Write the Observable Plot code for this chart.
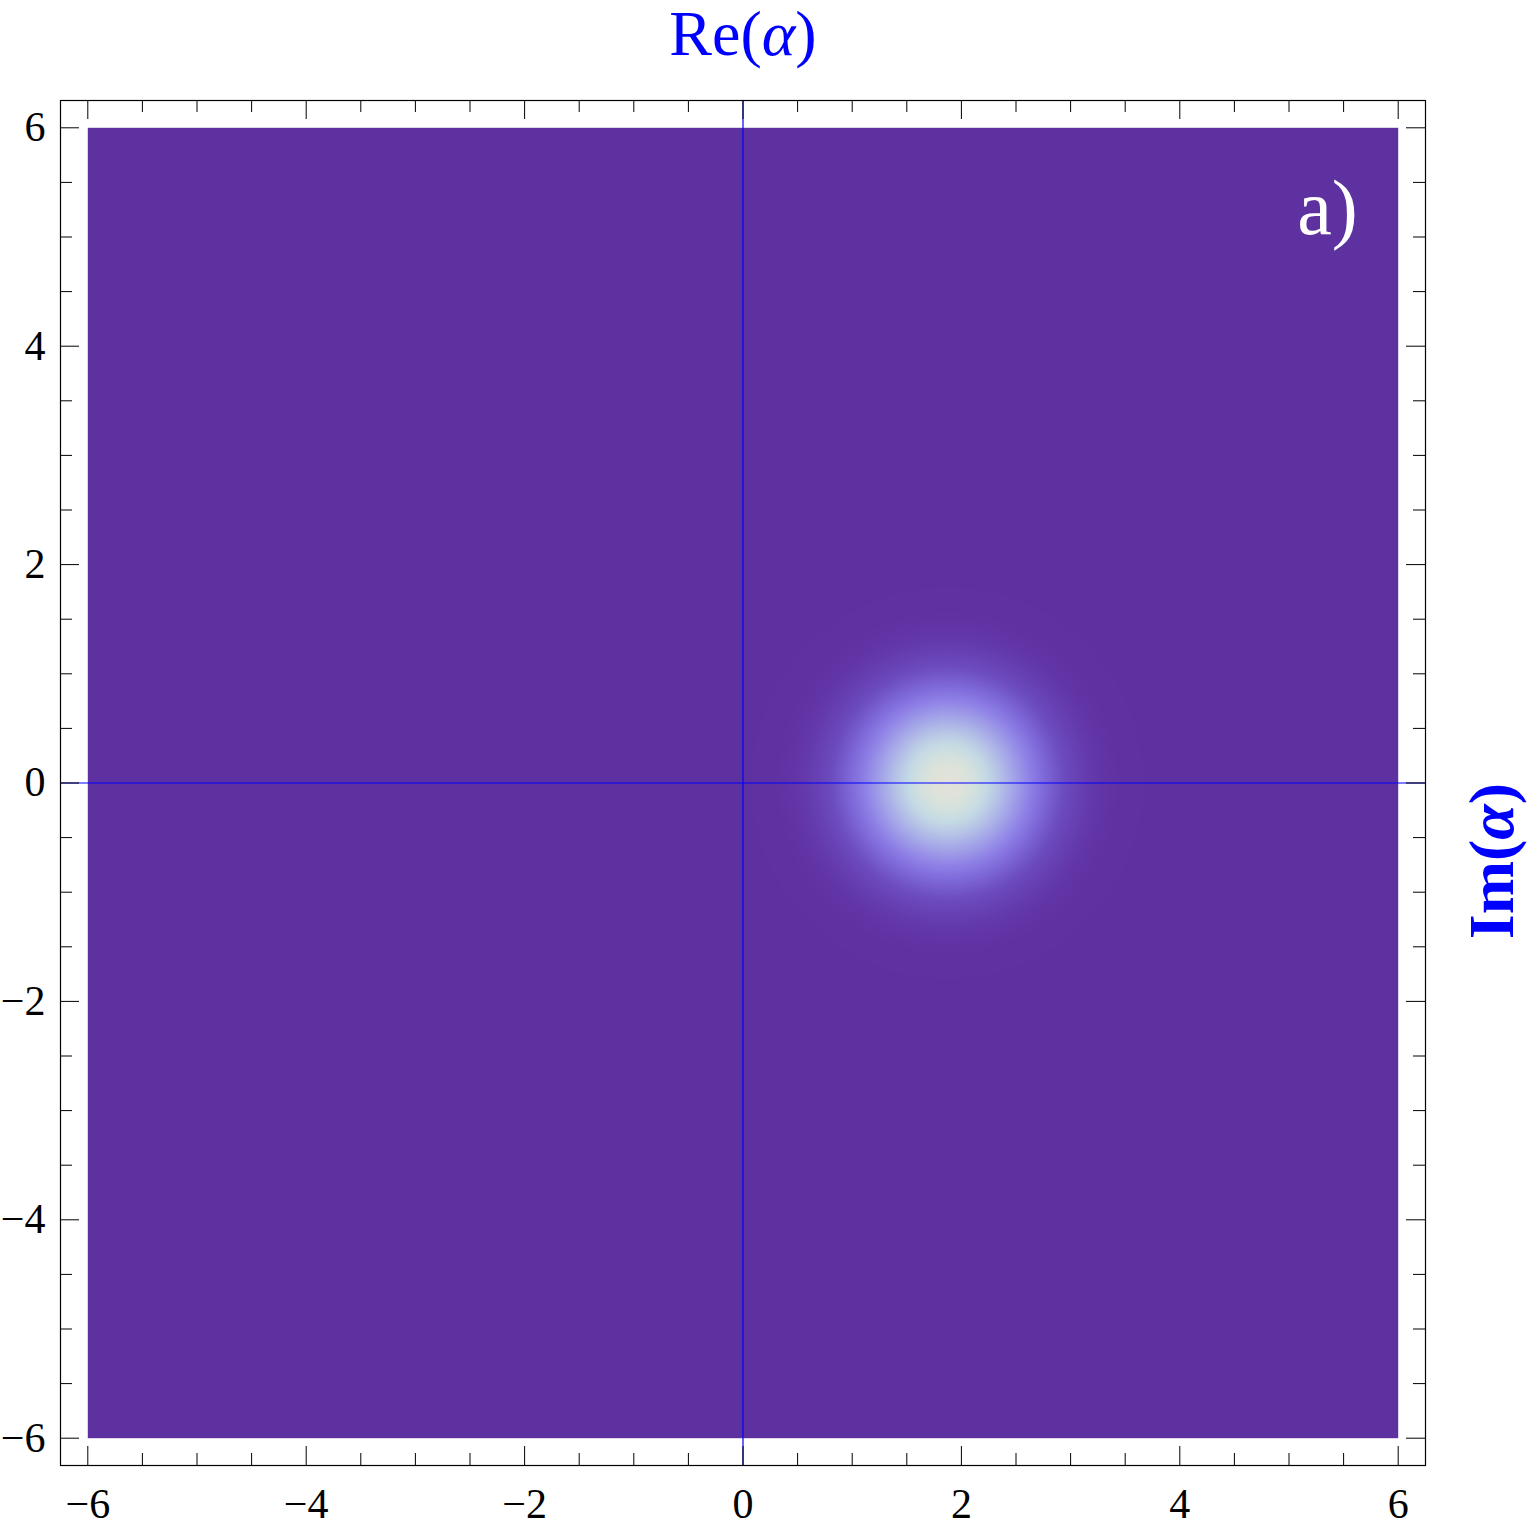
<!DOCTYPE html>
<html>
<head>
<meta charset="utf-8">
<script src="https://cdn.jsdelivr.net/npm/d3@7"></script>
<script src="https://cdn.jsdelivr.net/npm/@observablehq/plot@0.6"></script>
<style>
  body { margin: 0; background: #ffffff; }
</style>
</head>
<body>
<div id="chart"></div>
<script>
// ---- data ----
const xMajor = [-6, -4, -2, 0, 2, 4, 6];
const yMajor = [-6, -4, -2, 0, 2, 4, 6];
const minorTicks = [-5.5, -5, -4.5, -3.5, -3, -2.5, -1.5, -1, -0.5, 0.5, 1, 1.5, 2.5, 3, 3.5, 4.5, 5, 5.5];
const plotRange = [-6, 6];            // region covered by the density plot
const axisRange = [-6.25, 6.25];      // frame (with padding)
const alphaCenter = [1.87, 0];        // Re(α), Im(α) of the blob centre
const blobWidth = 1;                  // Q ∝ exp(-|β-α|²/w²)
const colorStops = [0, 0.08, 0.15, 0.32, 0.45, 0.56, 0.72, 0.88, 0.96, 1];
const colorRange = ["#5e31a1", "#5f32a2", "#6236a7", "#6c4cbf", "#7e68d8", "#8e80e6", "#a8ace8", "#c4dae4", "#d8e2dc", "#e2e2d8"];
const titleTop = "Re(α)";
const titleRight = "Im(α)";
const panelLabel = "a)";
const panelLabelPos = [5.63, 5.26];

// ---- layout ----
const W = 1530, H = 1532;
const mL = 60, mR = 105, mT = 100, mB = 67;
const fw = W - mL - mR, fh = H - mT - mB;
const majorLen = 19, minorLen = 12;
const serif = "'Liberation Serif', 'Times New Roman', serif";
const fmt = d => (d < 0 ? "\u2212" + (-d) : String(d));

const Q = (x, y) => Math.exp(-((x - alphaCenter[0]) ** 2 + (y - alphaCenter[1]) ** 2) / (blobWidth ** 2));

const plot = Plot.plot({
  width: W,
  height: H,
  marginLeft: mL,
  marginRight: mR,
  marginTop: mT,
  marginBottom: mB,
  x: { domain: axisRange },
  y: { domain: axisRange },
  color: { type: "linear", domain: colorStops, range: colorRange, clamp: true },
  style: { fontFamily: serif, background: "white", color: "black" },
  marks: [
    Plot.raster({ x1: plotRange[0], x2: plotRange[1], y1: plotRange[0], y2: plotRange[1], pixelSize: 1, fill: Q }),
    Plot.ruleX([0], { stroke: "#0000ff", strokeWidth: 1.2 }),
    Plot.ruleY([0], { stroke: "#0000ff", strokeWidth: 1.2 }),
    // bottom ticks
    Plot.tickX(xMajor, { x: d => d, insetTop: fh - majorLen, stroke: "black" }),
    Plot.tickX(minorTicks, { x: d => d, insetTop: fh - minorLen, stroke: "black" }),
    // top ticks
    Plot.tickX(xMajor, { x: d => d, insetBottom: fh - majorLen, stroke: "black" }),
    Plot.tickX(minorTicks, { x: d => d, insetBottom: fh - minorLen, stroke: "black" }),
    // left ticks
    Plot.tickY(yMajor, { y: d => d, insetRight: fw - majorLen, stroke: "black" }),
    Plot.tickY(minorTicks, { y: d => d, insetRight: fw - minorLen, stroke: "black" }),
    // right ticks
    Plot.tickY(yMajor, { y: d => d, insetLeft: fw - majorLen, stroke: "black" }),
    Plot.tickY(minorTicks, { y: d => d, insetLeft: fw - minorLen, stroke: "black" }),
    Plot.frame({ stroke: "black", strokeWidth: 1.2 }),
    Plot.axisX(xMajor, { anchor: "bottom", tickSize: 0, tickPadding: 23, fontSize: 42, label: null, tickFormat: fmt }),
    Plot.axisY(yMajor, { anchor: "left", tickSize: 0, tickPadding: 15, fontSize: 42, label: null, tickFormat: fmt }),
    Plot.text([titleTop], { text: d => d, frameAnchor: "top", dy: -66, fontSize: 64, fill: "#0000ff", lineAnchor: "middle" }),
    Plot.text([titleRight], { text: d => d, frameAnchor: "right", dx: 67, rotate: -90, fontSize: 64, fontWeight: "bold", fill: "#0000ff", lineAnchor: "middle" }),
    Plot.text([panelLabel], { text: d => d, x: () => panelLabelPos[0], y: () => panelLabelPos[1], textAnchor: "end", fontSize: 78, fill: "white", lineAnchor: "middle" })
  ]
});

// italic alpha in the axis titles
d3.select(plot).selectAll("text").each(function () {
  const t = this.textContent;
  if (t === titleTop || t === titleRight) {
    const parts = t.split("α");
    const sel = d3.select(this);
    sel.text(null);
    sel.append("tspan").text(parts[0]);
    sel.append("tspan").attr("font-style", "italic").text("α");
    sel.append("tspan").text(parts[1]);
  }
});

document.getElementById("chart").appendChild(plot);
</script>
</body>
</html>
